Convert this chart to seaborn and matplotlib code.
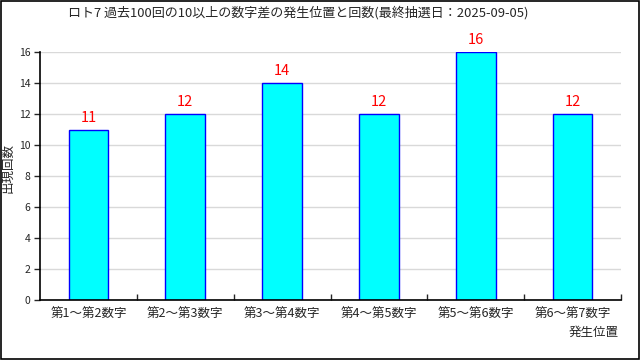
import matplotlib
matplotlib.use("Agg")
import matplotlib.pyplot as plt
import pandas as pd
import numpy as np
import seaborn as sns

sns.set_style("white")
plt.rcParams['font.family'] = ['Noto Sans CJK JP', 'DejaVu Sans']

title = "ロト7 過去100回の10以上の数字差の発生位置と回数(最終抽選日：2025-09-05)"
positions = ["第1～第2数字", "第2～第3数字", "第3～第4数字",
             "第4～第5数字", "第5～第6数字", "第6～第7数字"]
counts = [11, 12, 14, 12, 16, 12]
yticks = [0, 2, 4, 6, 8, 10, 12, 14, 16]

df = pd.DataFrame({"pos": positions, "count": counts})

fig = plt.figure(figsize=(6.4, 3.6), dpi=100)
ax = fig.add_axes([40/640, 1-300/360, 581/640, 248/360])

sns.barplot(data=df, x="pos", y="count", ax=ax, color="#00ffff",
            edgecolor="#0000ff", linewidth=1, width=0.41, saturation=1)

ax.set_ylim(0, 16)
ax.set_xlim(-0.5, len(positions) - 0.5)
ax.set_yticks(yticks)
ax.yaxis.grid(True, color="#d9d9d9", linewidth=1)
ax.set_axisbelow(True)
for s in ["top", "right"]:
    ax.spines[s].set_visible(False)
for s in ["left", "bottom"]:
    ax.spines[s].set_color("black")
    ax.spines[s].set_linewidth(1.2)

ax.tick_params(axis="y", left=True, length=4, width=1, labelsize=7.5, pad=3)
ax.tick_params(axis="x", bottom=False, labelsize=9, pad=2)
ax.set_xticks(np.arange(0.5, len(positions)), minor=True)
ax.tick_params(axis="x", which="minor", bottom=True, direction="in", length=4, width=1)

for i, v in enumerate(counts):
    ax.text(i, v + 0.3, str(v), ha="center", va="bottom", color="red", fontsize=10.5)

ax.set_xlabel("")
ax.set_ylabel("")
fig.text(298/640, 0.965, title, ha="center", va="center", fontsize=9.4)
fig.text(8/640, 1-168/360, "出現回数", rotation=90, ha="center", va="center", fontsize=9)
fig.text(619/640, 1-332/360, "発生位置", ha="right", va="center", fontsize=9)

fig.patches.append(plt.Rectangle((0.001, 0.002), 0.997, 0.996, transform=fig.transFigure,
                                 fill=False, edgecolor="black", linewidth=1.2))

fig.savefig("out.png", dpi=100)
